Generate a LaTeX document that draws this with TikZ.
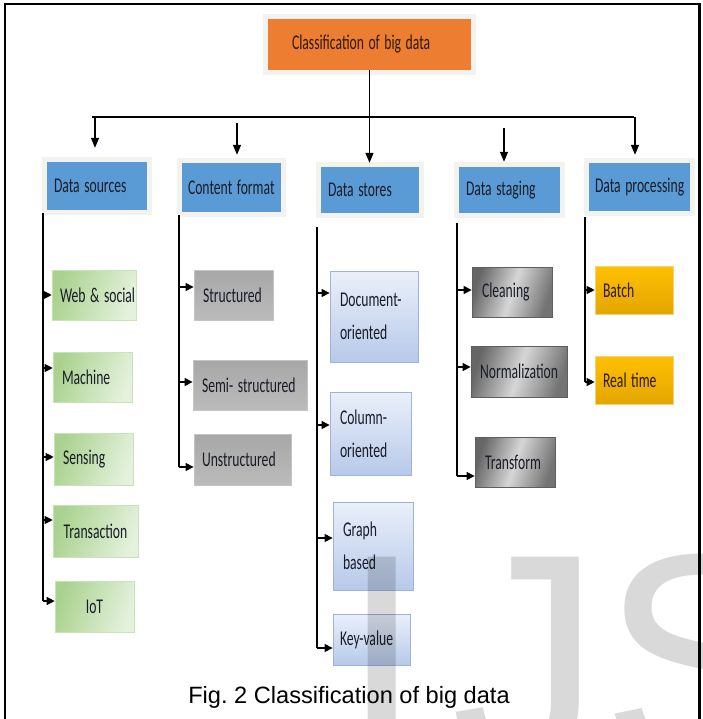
\documentclass[tikz,border=0pt]{standalone}
\usepackage{fontspec}
\usepackage{graphicx}
\setmainfont{Liberation Sans}
\newfontfamily\boxfont{Carlito}
\usetikzlibrary{arrows.meta}
\frenchspacing

% condensed box lettering
\newcommand\narrowtxt[1]{\scalebox{0.65}[1]{#1}}

\definecolor{rootorange}{HTML}{ED7D31}
\definecolor{catblue}{HTML}{5B9BD5}
\definecolor{inkdark}{HTML}{1A1D28}
\definecolor{inkbrown}{HTML}{2E1A0E}
\definecolor{greenA}{HTML}{A9D28E}
\definecolor{greenB}{HTML}{E4F1DC}
\definecolor{greenEdge}{HTML}{C9E2B8}
\definecolor{greyA}{HTML}{A7A7A7}
\definecolor{greyB}{HTML}{BBBBBB}
\definecolor{greyEdge}{HTML}{C4C4C4}
\definecolor{paleA}{HTML}{EAF0FA}
\definecolor{paleB}{HTML}{B7C9E9}
\definecolor{paleEdge}{HTML}{9DB3DD}
\definecolor{metalEdge}{HTML}{5E5E5E}
\definecolor{goldA}{HTML}{FFC000}
\definecolor{goldB}{HTML}{E3A600}
\definecolor{goldEdge}{HTML}{F4D27A}
\definecolor{glow}{HTML}{F4F2EF}

\tikzset{
  halo/.style={preaction={draw=glow, line width=10pt}},
  basebox/.style={rectangle, inner ysep=0pt, inner xsep=7pt, align=left,
    font=\boxfont\fontsize{21}{33}\selectfont, text=inkdark},
  rootbox/.style={basebox, fill=rootorange, text=inkbrown, halo},
  catbox/.style={basebox, fill=catblue, halo},
  srcbox/.style={basebox, left color=greenA, right color=greenB,
    shading angle=70, draw=greenEdge, line width=0.6pt},
  fmtbox/.style={basebox, top color=greyA, bottom color=greyB,
    draw=greyEdge, line width=0.8pt},
  stobox/.style={basebox, top color=paleA, bottom color=paleB,
    draw=paleEdge, line width=0.8pt},
  stgbox/.style={basebox, left color=black!60, right color=black!55,
    middle color=black!16, shading angle=72, draw=metalEdge, line width=0.8pt},
  prcbox/.style={basebox, top color=goldA, bottom color=goldB,
    draw=goldEdge, line width=0.6pt, text=inkbrown},
  wire/.style={line width=1.1pt, draw=black},
  arr/.style={wire, -{Triangle[length=8pt,width=8pt]}},
  downarr/.style={line width=1.4pt, draw=black, -{Triangle[length=10pt,width=8pt]}},
  busbar/.style={line width=2.6pt, draw=black},
  frameline/.style={line width=2.6pt, draw=black},
  markletter/.style={anchor=base west, inner sep=0pt, text=black, text opacity=0.15,
    font=\fontsize{300}{300}\selectfont},
}

\begin{document}
\begin{tikzpicture}[x=1pt,y=-1pt]
\useasboundingbox (0,0) rectangle (702,719);

% outer frame
\draw[frameline] (5,719) -- (5,4) -- (699.5,4) -- (699.5,719);

% root
\node[rootbox, minimum width=203pt, minimum height=51pt, text width=155pt,
      inner xsep=24pt] (root) at (369.5,44.5) {\narrowtxt{Classification of big data}};

% first level
\node[catbox, minimum width=100pt, minimum height=48pt, text width=86pt] (src) at (97,186) {\narrowtxt{Data sources}};
\node[catbox, minimum width=99pt, minimum height=49pt, text width=87pt, inner xsep=6pt] (fmt) at (231.5,187.5) {\narrowtxt{Content format}};
\node[catbox, minimum width=98pt, minimum height=46pt, text width=84pt] (sto) at (370,190) {\narrowtxt{Data stores}};
\node[catbox, minimum width=101pt, minimum height=46pt, text width=87pt] (stg) at (509.5,190) {\narrowtxt{Data staging}};
\node[catbox, minimum width=101pt, minimum height=48pt, text width=89pt, inner xsep=6pt] (prc) at (639.5,187) {\narrowtxt{Data processing}};

% bus and drops
\coordinate (busL) at (92,117);
\coordinate (busR) at (634,117);
\draw[busbar] (busL) -- (busR);
\coordinate (dSrc) at (95,117);
\coordinate (dFmt) at (237,123);
\coordinate (dStg) at (504,128);
\coordinate (dPrc) at (635,117);
\draw[downarr, shorten >=14pt] (dSrc) -- (dSrc |- src.north);
\draw[downarr, shorten >=8pt] (dFmt) -- (dFmt |- fmt.north);
\draw[downarr, shorten >=4pt] (root.south) -- (root.south |- sto.north);
\draw[downarr, shorten >=5pt] (dStg) -- (dStg |- stg.north);
\draw[downarr, shorten >=8pt] (dPrc) -- (dPrc |- prc.north);

% data sources
\node[srcbox, minimum width=84pt, minimum height=50pt, text width=68pt, inner xsep=8pt] (web) at (94,295) {\narrowtxt{Web \& social}};
\node[srcbox, minimum width=79pt, minimum height=50pt, text width=61pt, inner xsep=9pt] (mach) at (92.5,377) {\narrowtxt{Machine}};
\node[srcbox, minimum width=79pt, minimum height=52pt, text width=61pt, inner xsep=9pt] (sens) at (93.5,459) {\narrowtxt{Sensing}};
\node[srcbox, minimum width=85pt, minimum height=52pt, text width=71pt, align=center] (trans) at (95.5,531) {\narrowtxt{Transaction}};
\node[srcbox, minimum width=79pt, minimum height=51pt, text width=65pt, align=center] (iot) at (94.5,606.5) {\narrowtxt{IoT}};
\coordinate (sTop) at (43,213);
\coordinate (sWeb) at (43,295);
\coordinate (sMach) at (43,368);
\coordinate (sSens) at (43,457);
\coordinate (sTrans) at (43,520);
\coordinate (sIot) at (43,601);
\draw[wire] (sTop) -- (sIot);
\draw[arr] (sWeb) -- (sWeb -| web.west);
\draw[arr] (sMach) -- (sMach -| mach.west);
\draw[arr] (sSens) -- (sSens -| sens.west);
\draw[arr] (sTrans) -- (sTrans -| trans.west);
\draw[arr] (sIot) -- (sIot -| iot.west);

% content format
\node[fmtbox, minimum width=79pt, minimum height=50pt, text width=61pt, inner xsep=9pt] (str) at (233.5,295) {\narrowtxt{Structured}};
\node[fmtbox, minimum width=114pt, minimum height=50pt, text width=96pt, inner xsep=9pt] (semi) at (250,385) {\narrowtxt{Semi- structured}};
\node[fmtbox, minimum width=97pt, minimum height=51pt, text width=81pt, inner xsep=8pt] (uns) at (242.5,459.5) {\narrowtxt{Unstructured}};
\coordinate (fTop) at (179,215);
\coordinate (fStr) at (179,287);
\coordinate (fSemi) at (179,382);
\coordinate (fUns) at (179,467);
\draw[wire] (fTop) -- (fUns);
\draw[arr] (fStr) -- (fStr -| str.west);
\draw[arr] (fSemi) -- (fSemi -| semi.west);
\draw[arr] (fUns) -- (fUns -| uns.west);

% data stores
\node[stobox, minimum width=88pt, minimum height=91pt, text width=68pt, inner xsep=10pt] (doc) at (374,316.5) {\narrowtxt{Document-}\\\narrowtxt{oriented}};
\node[stobox, minimum width=81pt, minimum height=83pt, text width=61pt, inner xsep=10pt] (colo) at (370.5,433.5) {\narrowtxt{Column-}\\\narrowtxt{oriented}};
\node[stobox, minimum width=80pt, minimum height=88pt, text width=60pt, inner xsep=10pt] (graph) at (373,546) {\narrowtxt{Graph}\\\narrowtxt{based}};
\node[stobox, minimum width=77pt, minimum height=51pt, text width=63pt] (kv) at (371.5,639.5) {\narrowtxt{Key-value}};
\coordinate (tTop) at (317,227);
\coordinate (tDoc) at (317,293);
\coordinate (tCol) at (317,425);
\coordinate (tGraph) at (317,538);
\coordinate (tKv) at (317,648);
\draw[wire] (tTop) -- (tKv);
\draw[arr] (tDoc) -- (tDoc -| doc.west);
\draw[arr] (tCol) -- (tCol -| colo.west);
\draw[arr] (tGraph) -- (tGraph -| graph.west);
\draw[arr] (tKv) -- (tKv -| kv.west);

% data staging
\node[stgbox, minimum width=80pt, minimum height=50pt, text width=60pt, inner xsep=10pt] (clean) at (512,292) {\narrowtxt{Cleaning}};
\node[stgbox, minimum width=96pt, minimum height=51pt, text width=78pt, inner xsep=9pt] (norm) at (519,371.5) {\narrowtxt{Normalization}};
\node[stgbox, minimum width=80pt, minimum height=50pt, text width=60pt, inner xsep=10pt] (trf) at (515,462) {\narrowtxt{Transform}};
\coordinate (gTop) at (457,223);
\coordinate (gClean) at (457,290);
\coordinate (gNorm) at (457,367);
\coordinate (gTrf) at (457,476);
\draw[wire] (gTop) -- (gTrf);
\draw[arr] (gClean) -- (gClean -| clean.west);
\draw[arr] (gNorm) -- (gNorm -| norm.west);
\draw[arr] (gTrf) -- (gTrf -| trf.west);

% data processing
\node[prcbox, minimum width=78pt, minimum height=48pt, text width=62pt, inner xsep=8pt] (batch) at (634,290) {\narrowtxt{Batch}};
\node[prcbox, minimum width=78pt, minimum height=48pt, text width=62pt, inner xsep=8pt] (rt) at (634,380) {\narrowtxt{Real time}};
\coordinate (pTop) at (585,217);
\coordinate (pBatch) at (585,290);
\coordinate (pRt) at (585,382);
\draw[wire] (pTop) -- (pRt);
\draw[arr] (pBatch) -- (pBatch -| batch.west);
\draw[arr] (pRt) -- (pRt -| rt.west);

% caption
\node[anchor=base, inner sep=0pt, font=\fontsize{23.6}{28}\selectfont] (cap) at (349,703) {Fig. 2 Classification of big data};

% translucent publisher mark, running off the lower right corner
\begin{scope}
  \clip (0,0) rectangle (702,719);
  \node[markletter] (markI) at (340,763) {I};
  \node[markletter] (markJS) at (451.4,763) {JS};
\end{scope}
\end{tikzpicture}
\end{document}
